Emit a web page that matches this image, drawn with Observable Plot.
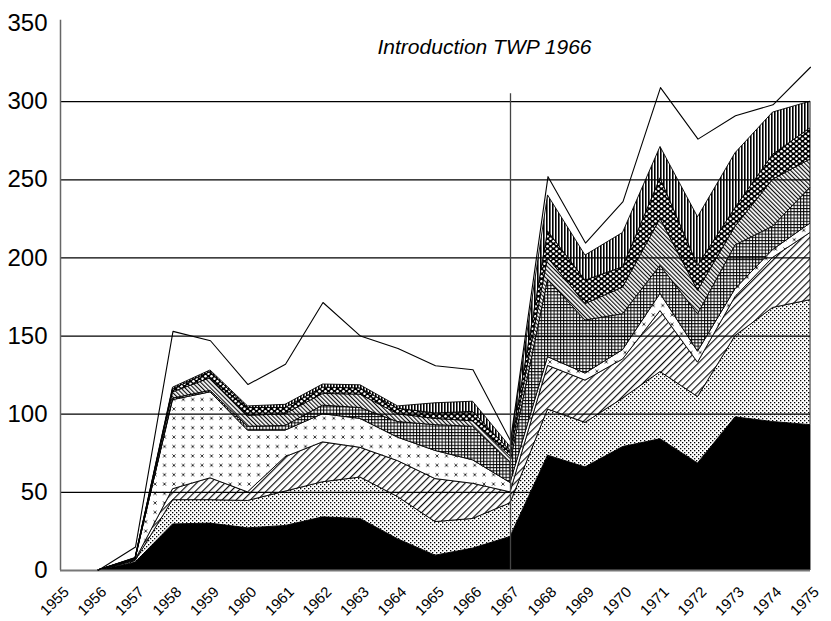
<!DOCTYPE html>
<html>
<head>
<meta charset="utf-8">
<script src="https://cdn.jsdelivr.net/npm/d3@7"></script>
<script src="https://cdn.jsdelivr.net/npm/@observablehq/plot@0.6"></script>
<style>
  html, body { margin: 0; padding: 0; background: white; }
  svg { font-family: "Liberation Sans", Arial, sans-serif; }
</style>
</head>
<body>
<div id="chart"></div>
<script>
// ---- data ----
const years = [1956, 1957, 1958, 1959, 1960, 1961, 1962, 1963, 1964, 1965,
               1966, 1967, 1968, 1969, 1970, 1971, 1972, 1973, 1974, 1975];
const xTickLabels = [1955, 1956, 1957, 1958, 1959, 1960, 1961, 1962, 1963, 1964, 1965,
                     1966, 1967, 1968, 1969, 1970, 1971, 1972, 1973, 1974, 1975];
const yTickLabels = [0, 50, 100, 150, 200, 250, 300, 350];
const gridValues = [50, 100, 150, 200, 250, 300];

const seriesNames = ["s1", "s2", "s3", "s4", "s5", "s6", "s7", "s8"];
const s1 = [0, 5, 29.5, 30, 27, 28.5, 34, 33, 20, 9.5, 14, 21.5, 73.5, 66, 79, 84, 68.5, 98, 95, 93];
const s2 = [0, 1, 15.5, 15, 17.5, 22, 22.5, 26.5, 27, 21.5, 19, 21.5, 29.5, 28.5, 31, 43, 42.5, 52, 73, 80];
const s3 = [0, 0.5, 7, 14, 5.5, 22, 25.5, 19, 23, 27.5, 22.5, 7, 28, 27, 25, 39, 22, 25, 32, 43];
const s4 = [0, 0.5, 57, 55, 39.5, 17, 18, 18.5, 15, 18, 15, 6, 5.5, 4.5, 6, 11, 7, 5, 5, 6];
const s5 = [0, 0.2, 1, 1, 2.5, 3, 5.5, 7, 10, 16.5, 21.5, 13, 49.5, 34, 23, 18, 24, 28, 15, 23];
const s6 = [0, 0.3, 4, 8, 7, 7.5, 7.5, 8.5, 5, 4, 3.5, 4, 14, 10.5, 17, 30, 15, 12, 30, 18];
const s7 = [0, 0.3, 2, 4, 5, 4, 4, 4, 3.5, 3.5, 6, 3.5, 17, 15, 13, 26, 16, 12, 16, 20];
const s8 = [0, 0.2, 1, 1, 1, 2, 2, 2, 1.5, 6.5, 6.5, 2.5, 23, 16, 22, 20, 31, 35, 27, 17];
const total = [0, 15, 153, 147, 119, 132, 171.5, 150, 142, 131, 128.5, 83, 252, 209.5, 236, 309, 276, 291, 298, 322];

const annotation = "Introduction TWP 1966";

// ---- build table ----
const seriesValues = [s1, s2, s3, s4, s5, s6, s7, s8];
const rows = [];
seriesNames.forEach((name, i) => {
  years.forEach((yr, j) => rows.push({year: yr, series: name, value: seriesValues[i][j]}));
});
const totalRows = years.map((yr, j) => ({year: yr, value: total[j]}));

const fills = ["black", "url(#pDots)", "url(#pDiag)", "url(#pCross)",
               "url(#pGrid)", "url(#pBack)", "url(#pCirc)", "url(#pVert)"];

const chart = Plot.plot({
  width: 831,
  height: 621,
  marginLeft: 60,
  marginRight: 21,
  marginTop: 23,
  marginBottom: 51,
  x: {domain: [1955, 1975], axis: null},
  y: {domain: [0, 350], axis: null},
  color: {type: "ordinal", domain: seriesNames, range: fills},
  marks: [
    Plot.areaY(rows, {
      x: "year", y: "value", z: "series", fill: "series",
      order: seriesNames, stroke: "black", strokeWidth: 0.9
    }),
    Plot.ruleY(gridValues, {stroke: "black", strokeWidth: 1.3}),
    Plot.ruleX([1955], {y1: 0, y2: 352, stroke: "#666", strokeWidth: 1.5}),
    Plot.ruleY([0], {stroke: "#777", strokeWidth: 2}),
    Plot.lineY(totalRows, {x: "year", y: "value", stroke: "black", strokeWidth: 1.1}),
    Plot.ruleX([1967], {y1: 0, y2: 305, stroke: "#444", strokeWidth: 1.3}),
    Plot.text([annotation], {
      x: 1967, y: 335, dx: -26, text: d => d, fontSize: 21,
      fontStyle: "italic", textAnchor: "middle", fill: "black"
    }),
    Plot.text(yTickLabels, {
      x: 1955, y: d => d, text: d => String(d), textAnchor: "end",
      dx: -13, fontSize: 24, fill: "black"
    }),
    Plot.text(xTickLabels, {
      x: d => d, y: 0, text: d => String(d), rotate: -45, textAnchor: "end",
      dx: 6, dy: 19, fontSize: 15, fill: "black"
    })
  ]
});

d3.select(chart).insert("defs", ":first-child").html(`
  <pattern id="pDots" width="4" height="4" patternUnits="userSpaceOnUse">
    <rect width="4" height="4" fill="white"/>
    <rect x="0" y="0" width="1.3" height="1.3" fill="black"/>
    <rect x="2" y="2" width="1.3" height="1.3" fill="black"/>
  </pattern>
  <pattern id="pDiag" width="5" height="5" patternUnits="userSpaceOnUse" patternTransform="rotate(45)">
    <rect width="5" height="5" fill="white"/>
    <line x1="0.6" y1="0" x2="0.6" y2="5" stroke="black" stroke-width="1.1"/>
  </pattern>
  <pattern id="pCross" width="9.4" height="9.4" patternUnits="userSpaceOnUse">
    <rect width="9.4" height="9.4" fill="white"/>
    <path d="M3.2,3.2 l3,3 M6.2,3.2 l-3,3" stroke="black" stroke-width="0.8"/>
  </pattern>
  <pattern id="pGrid" width="3.2" height="3.2" patternUnits="userSpaceOnUse">
    <rect width="3.2" height="3.2" fill="white"/>
    <path d="M0,0.5 H3.2 M0.5,0 V3.2" stroke="black" stroke-width="1"/>
  </pattern>
  <pattern id="pBack" width="3" height="3" patternUnits="userSpaceOnUse" patternTransform="rotate(-45)">
    <rect width="3" height="3" fill="white"/>
    <line x1="0.6" y1="0" x2="0.6" y2="3" stroke="black" stroke-width="1.1"/>
  </pattern>
  <pattern id="pCirc" width="6" height="5" patternUnits="userSpaceOnUse">
    <rect width="6" height="5" fill="black"/>
    <circle cx="1.5" cy="1.25" r="1.3" fill="white"/>
    <circle cx="4.5" cy="3.75" r="1.3" fill="white"/>
  </pattern>
  <pattern id="pVert" width="3" height="3" patternUnits="userSpaceOnUse">
    <rect width="3" height="3" fill="white"/>
    <rect x="0" y="0" width="1.6" height="3" fill="black"/>
  </pattern>
`);

document.getElementById("chart").appendChild(chart);
</script>
</body>
</html>
